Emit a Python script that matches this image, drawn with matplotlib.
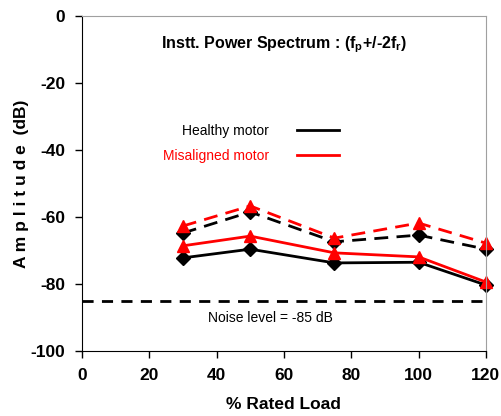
import matplotlib
matplotlib.use("Agg")
import matplotlib.pyplot as plt
from matplotlib.lines import Line2D

plt.rcParams['font.family'] = ['Liberation Sans', 'DejaVu Sans']
plt.rcParams['axes.unicode_minus'] = False

# data
load = [30, 50, 75, 100, 120]
healthy_solid = [-72.2, -69.6, -73.7, -73.5, -80.3]
healthy_dashed = [-64.8, -58.5, -67.4, -65.4, -69.6]
misaligned_solid = [-68.6, -65.7, -70.7, -71.9, -79.4]
misaligned_dashed = [-62.7, -56.7, -66.3, -61.8, -67.8]
noise_level = -85

fig = plt.figure(figsize=(5.02, 4.16), dpi=100)
ax = fig.add_axes([0.163, 0.156, 0.805, 0.806])

ax.plot(load, healthy_dashed, color='black', lw=2, ls=(0, (5, 3)),
        marker='D', ms=7, clip_on=False)
ax.plot(load, misaligned_dashed, color='red', lw=2, ls=(0, (5, 3)),
        marker='^', ms=9, clip_on=False)
ax.plot(load, healthy_solid, color='black', lw=2, marker='D', ms=7, clip_on=False)
ax.plot(load, misaligned_solid, color='red', lw=2, marker='^', ms=9, clip_on=False)

ax.axhline(noise_level, color='black', lw=2, ls=(0, (4, 3)))
ax.text(56, -90, 'Noise level = -85 dB', fontsize=10, ha='center', va='center')

ax.text(0.5, 0.915, r'Instt. Power Spectrum : (f$_\mathregular{p}$+/-2f$_\mathregular{r}$)',
        transform=ax.transAxes, ha='center', va='center',
        fontsize=11.5, fontweight='bold')

handles = [Line2D([], [], color='black', lw=2),
           Line2D([], [], color='red', lw=2)]
ax.legend(handles, ['Healthy motor', 'Misaligned motor'], markerfirst=False,
          frameon=False, labelcolor='linecolor', fontsize=10,
          loc='upper left', bbox_to_anchor=(0.17, 0.715),
          handlelength=3.0, handletextpad=2.0, labelspacing=0.8)

ax.set_xlim(0, 120)
ax.set_ylim(-100, 0)
ax.set_xticks([0, 20, 40, 60, 80, 100, 120])
ax.set_yticks([0, -20, -40, -60, -80, -100])
for lab in ax.get_xticklabels() + ax.get_yticklabels():
    lab.set_fontweight('bold')
ax.tick_params(labelsize=12.5, length=5, direction='out', width=1, pad=7)

ax.set_xlabel('% Rated Load', fontsize=12.5, fontweight='bold', labelpad=10)
ax.set_ylabel('A m p l i t u d e  (dB)', fontsize=12.5, fontweight='bold', labelpad=1)

ax.spines['top'].set_color('#a0a0a0')
ax.spines['right'].set_color('#a0a0a0')

fig.savefig('out.png', dpi=100)
